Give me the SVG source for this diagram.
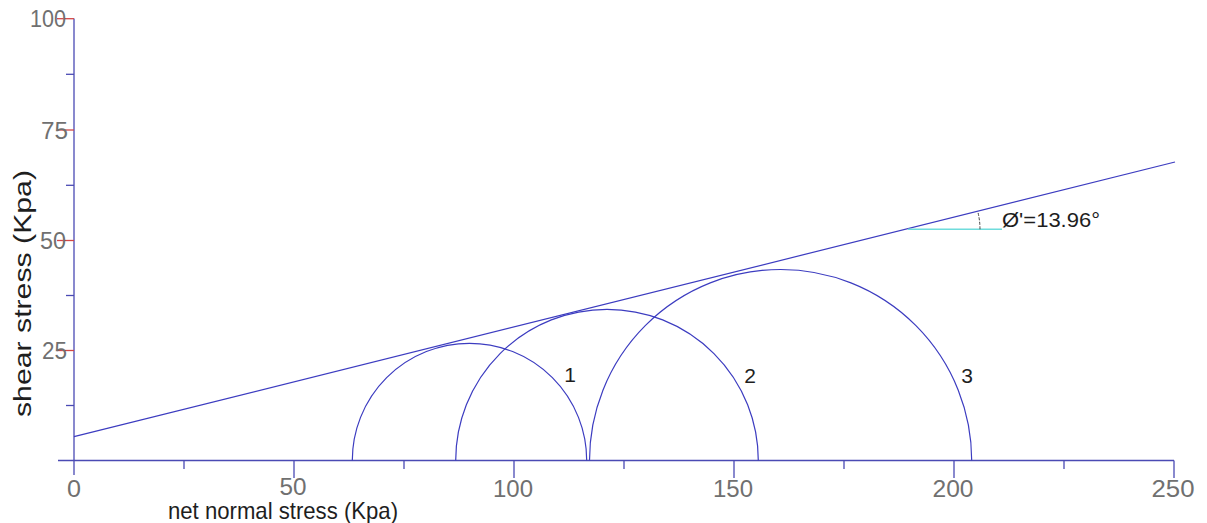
<svg xmlns="http://www.w3.org/2000/svg" width="1207" height="523" viewBox="0 0 1207 523">
<style>
.ax{stroke:#4a4ab4;stroke-width:1.3;fill:none}
.rt{stroke:#d24646;stroke-width:1.3}
.cir{stroke:#3c3cc0;stroke-width:1.2;fill:none}
.tk{font-family:"Liberation Sans",Arial,sans-serif;font-size:24px;fill:#707070}
.lbl{font-family:"Liberation Sans",Arial,sans-serif;fill:#1e1e1e}
</style>
<rect width="1207" height="523" fill="#ffffff"/>
<g id="axes">
<line class="ax" x1="74" y1="18.5" x2="74" y2="475"/>
<line class="ax" x1="58" y1="460.5" x2="1174" y2="460.5"/>
<line class="ax" x1="66" y1="74.3" x2="74" y2="74.3"/>
<line class="ax" x1="66" y1="185.3" x2="74" y2="185.3"/>
<line class="ax" x1="66" y1="295.5" x2="74" y2="295.5"/>
<line class="ax" x1="66" y1="405.5" x2="74" y2="405.5"/>
<line class="rt" x1="57" y1="18.7" x2="74" y2="18.7"/>
<line class="rt" x1="57" y1="130" x2="74" y2="130"/>
<line class="rt" x1="57" y1="240.5" x2="74" y2="240.5"/>
<line class="rt" x1="57" y1="350.5" x2="74" y2="350.5"/>
<line class="ax" x1="294" y1="460.5" x2="294" y2="478"/>
<line class="ax" x1="514" y1="460.5" x2="514" y2="478"/>
<line class="ax" x1="734" y1="460.5" x2="734" y2="478"/>
<line class="ax" x1="954" y1="460.5" x2="954" y2="478"/>
<line class="ax" x1="1174" y1="460.5" x2="1174" y2="478"/>
<line class="ax" x1="184" y1="460.5" x2="184" y2="469"/>
<line class="ax" x1="404" y1="460.5" x2="404" y2="469"/>
<line class="ax" x1="624" y1="460.5" x2="624" y2="469"/>
<line class="ax" x1="844" y1="460.5" x2="844" y2="469"/>
<line class="ax" x1="1064" y1="460.5" x2="1064" y2="469"/>
</g>
<g id="tick-labels">
<text class="tk" x="66" y="27.2" text-anchor="end" textLength="36" lengthAdjust="spacingAndGlyphs">100</text>
<text class="tk" x="68" y="138.5" text-anchor="end" textLength="27" lengthAdjust="spacingAndGlyphs">75</text>
<text class="tk" x="66" y="249" text-anchor="end" textLength="26" lengthAdjust="spacingAndGlyphs">50</text>
<text class="tk" x="67" y="359" text-anchor="end" textLength="25" lengthAdjust="spacingAndGlyphs">25</text>
<text class="tk" x="74" y="497" text-anchor="middle" textLength="14" lengthAdjust="spacingAndGlyphs">0</text>
<text class="tk" x="293" y="494.5" text-anchor="middle" textLength="27" lengthAdjust="spacingAndGlyphs">50</text>
<text class="tk" x="513" y="497" text-anchor="middle" textLength="40" lengthAdjust="spacingAndGlyphs">100</text>
<text class="tk" x="733" y="497" text-anchor="middle" textLength="40" lengthAdjust="spacingAndGlyphs">150</text>
<text class="tk" x="953" y="497" text-anchor="middle" textLength="41" lengthAdjust="spacingAndGlyphs">200</text>
<text class="tk" x="1173" y="497" text-anchor="middle" textLength="43" lengthAdjust="spacingAndGlyphs">250</text>
</g>
<g id="axis-titles">
<text class="lbl" x="168" y="519" font-size="24" textLength="230" lengthAdjust="spacingAndGlyphs">net normal stress (Kpa)</text>
<text class="lbl" transform="translate(31,417) rotate(-90)" x="0" y="0" font-size="23" textLength="247" lengthAdjust="spacingAndGlyphs">shear stress (Kpa)</text>
</g>
<g id="connectors">
<line id="envelope" class="cir" x1="74" y1="436.7" x2="1175" y2="162"/>
</g>
<g id="circle-1">
<path class="cir" d="M352.3,460.5 A117.2,117.2 0 0 1 586.7,460.5"/>
<text class="lbl" x="570" y="382" font-size="21" text-anchor="middle">1</text>
</g>
<g id="circle-2">
<path class="cir" d="M455.7,460.5 A151.3,151.3 0 0 1 758.3,460.5"/>
<text class="lbl" x="750" y="383" font-size="21" text-anchor="middle">2</text>
</g>
<g id="circle-3">
<path class="cir" d="M589.5,460.5 A191.1,191.1 0 0 1 971.7,460.5"/>
<text class="lbl" x="967" y="383" font-size="21" text-anchor="middle">3</text>
</g>
<g id="angle">
<line x1="908" y1="229.3" x2="1002" y2="229.3" stroke="#6fdcdc" stroke-width="1.5"/>
<path d="M980,229.3 A72,72 0 0 0 978,212.5" fill="none" stroke="#444" stroke-width="1" stroke-dasharray="3,1.5"/>
<text class="lbl" x="1002" y="227.3" font-size="20.5" textLength="98" lengthAdjust="spacingAndGlyphs">Ø'=13.96°</text>
</g>
</svg>
